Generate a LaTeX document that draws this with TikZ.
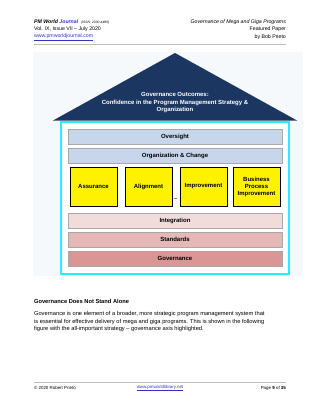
\documentclass[tikz,border=0pt]{standalone}
\usepackage{fontspec}
\setmainfont{Liberation Sans}
\usepackage{xcolor}
\usepackage{tikz}
\usetikzlibrary{positioning}
\definecolor{roofnavy}{HTML}{1B3761}
\definecolor{wallcyan}{HTML}{2CEBFA}
\definecolor{pagebg}{HTML}{F6F9FC}
\definecolor{barblue}{HTML}{C8D6EC}
\definecolor{barpink}{HTML}{F2DCDB}
\definecolor{barrose}{HTML}{E6B8B7}
\definecolor{barred}{HTML}{DA9694}
\definecolor{barline}{HTML}{A8A8A8}
\definecolor{linkblue}{HTML}{3333CC}
\definecolor{rulegray}{HTML}{BDBDBD}
\tikzstyle{bar} = [rectangle, draw=barline, thin, minimum width=14.45cm,
    minimum height=1.01cm, inner sep=0pt, font=\fontsize{11.5}{13}\selectfont\bfseries]
\tikzstyle{pillar} = [rectangle, draw=black, line width=1.7pt, fill=yellow,
    minimum width=3.17cm, minimum height=2.63cm, inner sep=1pt, align=center,
    font=\fontsize{11.5}{13.4}\selectfont\bfseries]
\tikzstyle{head} = [inner sep=0pt, font=\fontsize{10}{12}\selectfont]
\tikzstyle{foot} = [inner sep=0pt, font=\fontsize{8.5}{10}\selectfont]

\begin{document}
\begin{tikzpicture}[x=0.0675cm, y=-0.0675cm]
\useasboundingbox[fill=white] (0,0) rectangle (320,414);

% page header
\node[head, anchor=west] (h1) at (34,22) {\textbf{\textit{PM World \textcolor{linkblue}{Journal}}}\ \ {\fontsize{6.5}{8}\selectfont\itshape (ISSN: 2330-4480)}};
\node[head, anchor=west] (h2) at (34,29.5) {Vol. IX, Issue VII -- July 2020};
\node[head, anchor=west, text=linkblue] (h3) at (34,37) {\underline{www.pmworldjournal.com}};
\node[head, anchor=east] (h4) at (286,22) {\itshape Governance of Mega and Giga Programs};
\node[head, anchor=east] (h5) at (286,29.5) {Featured Paper};
\node[head, anchor=east] (h6) at (286,37) {by Bob Prieto};
\draw[rulegray, line width=1.6pt] (34,44) -- (286,44);

% figure
\fill[pagebg] (33,52) rectangle (303,276);
\fill[roofnavy] (175,53) -- (297,120.5) -- (53,120.5) -- cycle;
\node[align=center, text=white, font=\fontsize{11.5}{14.3}\selectfont\bfseries] (roof) at (175,102.8)
    {Governance Outcomes:\\Confidence in the Program Management Strategy \&\\Organization};
\draw[wallcyan, line width=2pt, fill=white] (61,122) rectangle (289,274);

\node[bar, fill=barblue] (oversight) at (175,136.5) {Oversight};
\node[bar, fill=barblue] (orgchange) at (175,155.5) {Organization \& Change};

\node[pillar] (assurance) at (93.5,186.5) {Assurance};
\node[pillar] (alignment) at (148.5,186.5) {Alignment};
\node[pillar] (improve) at (203.5,186.5) {Improvement};
\node[pillar] (bpi) at (256.5,186.5) {Business\\Process\\Improvement};
\draw[gray, thin] (173.5,198) -- (177,198);

\node[bar, fill=barpink] (integration) at (175,220.5) {Integration};
\node[bar, fill=barrose] (standards) at (175,239.5) {Standards};
\node[bar, fill=barred] (governance) at (175,258.5) {Governance};

% text below the figure
\node[anchor=west, inner sep=0pt, font=\fontsize{11}{13}\selectfont\bfseries] (title) at (34,301)
    {Governance Does Not Stand Alone};
\node[anchor=north west, inner sep=0pt, align=left, font=\fontsize{11}{14.3}\selectfont] (para) at (34,311.3)
    {Governance is one element of a broader, more strategic program management system that\\
     is essential for effective delivery of mega and giga programs. This is shown in the following\\
     figure with the all-important strategy -- governance axis highlighted.};

% page footer
\draw[rulegray, line width=0.8pt] (34,382) -- (286,382);
\node[foot, anchor=west] (f1) at (34,388) {\textcopyright{} 2020 Robert Prieto};
\node[foot, text=linkblue] (f2) at (160,388) {\underline{www.pmworldlibrary.net}};
\node[foot, anchor=east] (f3) at (286,388) {Page \textbf{9} of \textbf{35}};
\end{tikzpicture}
\end{document}
